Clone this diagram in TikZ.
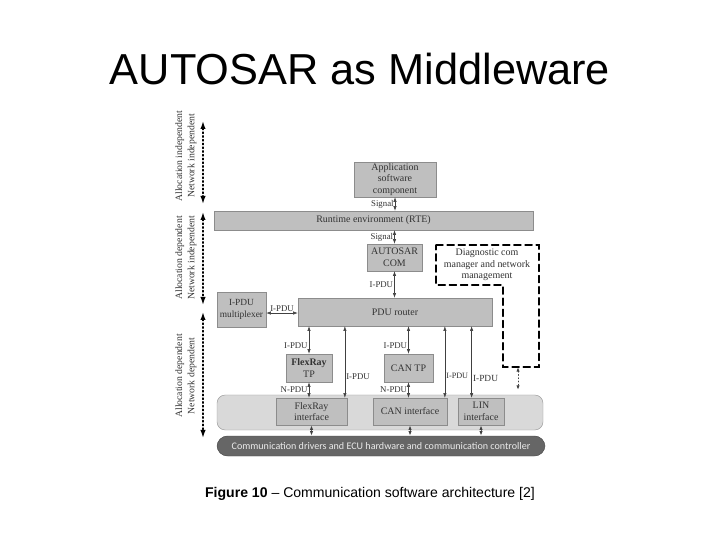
\documentclass[tikz,border=0pt]{standalone}
\usepackage{fontspec}
\setmainfont{Liberation Serif}
\newfontfamily\headfont{Liberation Sans}
\newfontfamily\barfont{Carlito}
\usetikzlibrary{arrows.meta,fit}

\tikzset{
  box/.style={draw=black!45,fill=black!25,inner sep=0pt},
  boxtext/.style={align=center,inner sep=0pt,text=black!80,font=\fontsize{8.5}{10}\selectfont},
  lbl/.style={inner sep=1pt,text=black!80,font=\fontsize{7.5}{8}\selectfont},
  link/.style={black!75,{Latex[length=1.4mm,width=1mm]}-{Latex[length=1.4mm,width=1mm]}},
  dlink/.style={link,dotted,thick},
  axis/.style={very thick,dotted,{Latex[length=2.4mm,width=1.6mm]}-{Latex[length=2.4mm,width=1.6mm]}},
  sidelbl/.style={rotate=90,align=center,text=black!80,font=\fontsize{8.3}{10.5}\selectfont},
  diag/.style={very thick,dash pattern=on 6pt off 3.5pt},
}

\begin{document}
\begin{tikzpicture}[x=0.03cm,y=-0.03cm,line cap=round]
\useasboundingbox[fill=white] (0,0) rectangle (720,540);

% title and caption
\node[anchor=base,font=\headfont\fontsize{37}{40}\selectfont] (title) at (360,85) {AUTOSAR as Middleware};
\node[anchor=base,font=\headfont\fontsize{12}{14}\selectfont] (caption) at (370,497)
  {\textbf{Figure 10} \textendash{} Communication software architecture [2]};

% left scale
\coordinate (s1) at (203,121);
\coordinate (s2) at (203,204);
\coordinate (s3) at (203,212);
\coordinate (s4) at (203,305);
\coordinate (s5) at (203,312);
\coordinate (s6) at (203,438);
\draw[axis] (s1) -- (s2);
\draw[axis] (s3) -- (s4);
\draw[axis] (s5) -- (s6);
\node[sidelbl] (side1) at (186,156) {Allocation independent\\Network independent};
\node[sidelbl] (side2) at (186,258) {Allocation dependent\\Network independent};
\node[sidelbl] (side3) at (186,376) {Allocation dependent\\Network dependent};

% upper layers
\node[box,fit={(354,162) (436,197)}] (app) {};
\node[boxtext] (apptxt) at (app) {Application\\software\\component};
\node[box,fit={(214,211) (533,230)}] (rte) {};
\node[boxtext] (rtetxt) at (rte) {Runtime environment (RTE)};
\node[box,fit={(367,244) (422,271)}] (com) {};
\node[boxtext] (comtxt) at (com) {AUTOSAR\\COM};
\node[box,fit={(298,298) (492,326)}] (router) {};
\node[boxtext] (routertxt) at (router) {PDU router};
\node[box,fit={(217,292) (266,327)}] (mux) {};
\node[boxtext,font=\fontsize{8}{10}\selectfont] (muxtxt) at (mux) {I-PDU\\multiplexer};

\draw[link] (app.south) -- (app.south |- rte.north) node[midway,left,lbl]{Signal};
\draw[link] (com.north |- rte.south) -- (com.north) node[midway,left,lbl]{Signal};
\draw[link] (com.south) -- (com.south |- router.north) node[midway,left,lbl]{I-PDU};
\draw[link] ([yshift=-3pt]mux.east) -- ([yshift=-3pt]mux.east -| router.west)
  node[midway,above,lbl]{I-PDU};

% diagnostics
\coordinate (d1) at (436,245);
\coordinate (d2) at (539,245);
\coordinate (d3) at (539,367);
\coordinate (d4) at (503,367);
\coordinate (d5) at (503,285);
\coordinate (d6) at (436,285);
\draw[diag] (d1) -- (d2) -- (d3) -- (d4) -- (d5) -- (d6) -- cycle;
\node[boxtext] (diagtxt) at (487,265) {Diagnostic com\\manager and network\\management};
\coordinate (dtop) at (518,367);
\coordinate (dbot) at (518,390);
\draw[dlink] (dtop) -- (dbot);

% transport protocols
\node[box,fit={(286,354) (332,382)}] (fxtp) {};
\node[boxtext] (fxtptxt) at (fxtp) {\textbf{FlexRay}\\TP};
\node[box,fit={(384,354) (433,382)}] (cantp) {};
\node[boxtext] (cantptxt) at (cantp) {CAN TP};

% bus interfaces
\node[fit={(217,395) (543,430)},inner sep=0pt,draw=black!40,fill=black!15,rounded corners=7pt] (ifrow) {};
\node[box,fit={(276,398) (347,425)}] (fxif) {};
\node[boxtext] (fxiftxt) at (fxif) {FlexRay\\interface};
\node[box,fit={(373,398) (447,425)}] (canif) {};
\node[boxtext] (caniftxt) at (canif) {CAN interface};
\node[box,fit={(458,398) (504,425)}] (linif) {};
\node[boxtext] (liniftxt) at (linif) {LIN\\interface};
\node[fit={(217,436) (545,456)},inner sep=0pt,draw=black!72,fill=black!60,rounded corners=9pt] (hw) {};
\node[inner sep=0pt,text=black!8,font=\barfont\fontsize{8.6}{9}\selectfont] (hwtxt) at (hw)
  {Communication drivers and ECU hardware and communication controller};

\draw[link] (fxtp.north) -- (fxtp.north |- router.south) node[pos=0.3,left,lbl]{I-PDU};
\draw[link] (cantp.north) -- (cantp.north |- router.south) node[pos=0.3,left,lbl]{I-PDU};
\draw[link] ([xshift=-2pt]fxif.north east) -- ([xshift=-2pt]fxif.north east |- router.south)
  node[pos=0.3,right,lbl]{I-PDU};
\draw[link] ([xshift=-2pt]canif.north east) -- ([xshift=-2pt]canif.north east |- router.south)
  node[pos=0.3,right,lbl,font=\fontsize{7}{7}\selectfont]{I-PDU};
\draw[link] ([xshift=-8pt]linif.north) -- ([xshift=-8pt]linif.north |- router.south)
  node[pos=0.27,right,lbl,font=\fontsize{8}{8}\selectfont]{I-PDU};
\draw[link] (fxtp.south) -- (fxtp.south |- fxif.north) node[midway,left,lbl]{N-PDU};
\draw[link] (cantp.south) -- (cantp.south |- canif.north) node[midway,left,lbl]{N-PDU};

\draw[dlink] (fxif.south) -- (fxif.south |- hw.north);
\draw[dlink] (canif.south) -- (canif.south |- hw.north);
\draw[dlink] (linif.south) -- (linif.south |- hw.north);
\end{tikzpicture}
\end{document}
